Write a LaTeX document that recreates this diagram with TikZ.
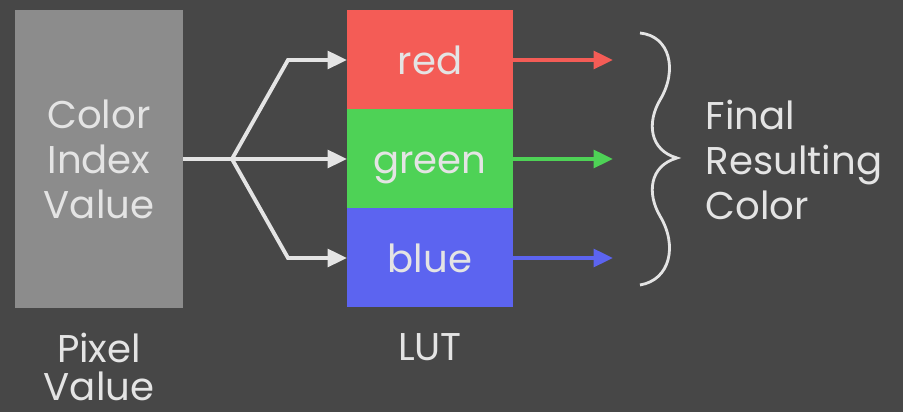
\documentclass[tikz,border=0pt]{standalone}
\usepackage{fontspec}
\setmainfont{Poppins}
\usepackage{tikz}
\usetikzlibrary{arrows.meta,positioning,calc}

\definecolor{bgcol}{RGB}{71,71,71}
\definecolor{pixcol}{RGB}{140,140,140}
\definecolor{lutred}{RGB}{244,92,86}
\definecolor{lutgreen}{RGB}{78,210,86}
\definecolor{lutblue}{RGB}{92,100,240}
\definecolor{txtcol}{RGB}{228,228,228}

\begin{document}
\begin{tikzpicture}[
    box/.style={rectangle, minimum width=3.32cm, minimum height=1.98cm, outer sep=0pt, align=center, text=txtcol, font=\fontsize{22}{25.6}\selectfont},
    lutbox/.style={rectangle, minimum width=3.32cm, minimum height=1.98cm, outer sep=0pt, text=txtcol, font=\fontsize{22}{25.6}\selectfont, text height=16pt, text depth=0pt},
    lbl/.style={align=center, text=txtcol, font=\fontsize{22}{21.6}\selectfont},
    arrow/.style={-{Triangle[length=11pt,width=10pt]}, line width=2.2pt}
]

% Background
\fill[bgcol] (0,0) rectangle (18.06,-8.24);

% Pixel value
\node[box, fill=pixcol, minimum width=3.36cm, minimum height=5.96cm] (pixel) at (1.98,-3.18) {Color\\Index\\Value};
\node[lbl, below=0.38cm of pixel] (pixlbl) {Pixel\\Value};

% LUT
\node[lutbox, fill=lutred] (red) at (8.6,-1.2) {red};
\node[lutbox, fill=lutgreen, below=0cm of red] (green) {green};
\node[lutbox, fill=lutblue, below=0cm of green] (blue) {blue};
\node[lbl, below=0.4cm of blue] (lutlbl) {LUT};

% Split point and corners
\coordinate (split) at ($(pixel.east)+(0.98,0)$);
\coordinate (knee) at ($(split)+(1.12,0)$);

% Arrows from pixel to LUT
\draw[line width=2.2pt, txtcol] (pixel.east) -- (split);
\draw[arrow, txtcol] (split) -- (knee |- red.west) -- (red.west);
\draw[arrow, txtcol] (split) -- (green.west);
\draw[arrow, txtcol] (split) -- (knee |- blue.west) -- (blue.west);

% Outputs
\coordinate[right=2cm of red.east] (rout);
\coordinate[right=2cm of green.east] (gout);
\coordinate[right=2cm of blue.east] (bout);
\draw[arrow, lutred] (red.east) -- (rout);
\draw[arrow, lutgreen] (green.east) -- (gout);
\draw[arrow, lutblue] (blue.east) -- (bout);

% Brace
\draw[txtcol, line width=1.6pt] (12.8,-0.66) .. controls (13.4,-0.72) and (13.56,-1.4) .. (13.2,-2.0)
    .. controls (12.94,-2.44) and (12.98,-3.0) .. (13.54,-3.16)
    .. controls (12.98,-3.32) and (12.94,-3.88) .. (13.2,-4.32)
    .. controls (13.56,-4.92) and (13.4,-5.6) .. (12.8,-5.7);

% Result
\node[box, align=left, anchor=west, minimum width=0pt, minimum height=0pt] (result) at (14.0,-3.2) {Final\\Resulting\\Color};

\end{tikzpicture}
\end{document}
